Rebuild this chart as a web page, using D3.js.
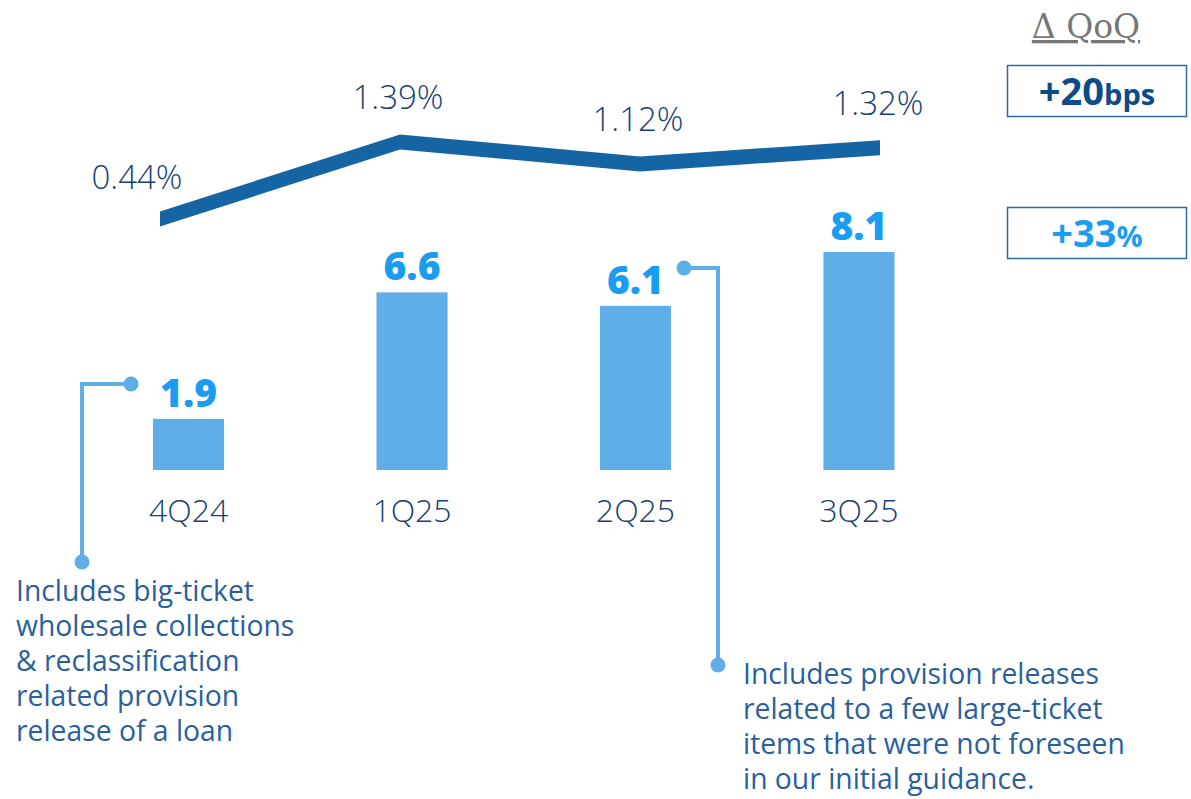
<!DOCTYPE html>
<html>
<head>
<meta charset="utf-8">
<script src="https://cdn.jsdelivr.net/npm/d3@7"></script>
<style>
	body { margin: 0; background: #fff; }
	svg { display: block; font-family: "Open Sans", Lato, sans-serif; }
</style>
</head>
<body>
<div id="content"></div>
<script>
// data
let quarters = ['4Q24', '1Q25', '2Q25', '3Q25']
let cost_of_risk = [0.44, 1.39, 1.12, 1.32]
let impairments = [1.9, 6.6, 6.1, 8.1]
let value_labels = ['1.9', '6.6', '6.1', '8.1']
let rate_labels = ['0.44%', '1.39%', '1.12%', '1.32%']
let qoq_header = 'Δ QoQ'
let qoq_values = [{ main: '+20', unit: 'bps' }, { main: '+33', unit: '%' }]
let note_left = ['Includes big-ticket', 'wholesale collections', '& reclassification', 'related provision', 'release of a loan']
let note_right = ['Includes provision releases', 'related to a few large-ticket', 'items that were not foreseen', 'in our initial guidance.']

let WIDTH = 1191
let HEIGHT = 799
let DARK = '#1a3f73'
let LINE = '#1565a5'
let BAR = '#5faee8'
let BRIGHT = '#1a9cf0'
let NOTE = '#2a5f9c'

let svg = d3.select('#content').append('svg')
	.attr('width', WIDTH)
	.attr('height', HEIGHT)

// bars
let x_bar = d3.scaleBand().domain(quarters).range([153, 894.5]).paddingInner(0.682).paddingOuter(0)
let y_bar = d3.scaleLinear().domain([0, 8.1]).range([470, 252])

svg.selectAll('rect.bar')
	.data(quarters)
	.enter().append('rect')
		.attr('class', 'bar')
		.attr('x', (d) => x_bar(d))
		.attr('width', x_bar.bandwidth())
		.attr('y', (d, i) => y_bar(impairments[i]))
		.attr('height', (d, i) => y_bar(0) - y_bar(impairments[i]))
		.style('fill', BAR)

svg.selectAll('text.value')
	.data(quarters)
	.enter().append('text')
		.attr('class', 'value')
		.attr('x', (d) => x_bar(d) + x_bar.bandwidth() / 2)
		.attr('y', (d, i) => y_bar(impairments[i]) - 12)
		.attr('text-anchor', 'middle')
		.style('font-size', '39px')
		.style('font-weight', 800)
		.style('fill', BRIGHT)
		.text((d, i) => value_labels[i])

svg.selectAll('text.category')
	.data(quarters)
	.enter().append('text')
		.attr('class', 'category')
		.attr('x', (d) => x_bar(d) + x_bar.bandwidth() / 2)
		.attr('y', 522)
		.attr('text-anchor', 'middle')
		.style('font-size', '32px')
		.style('font-weight', 300)
		.style('fill', DARK)
		.text((d) => d)

// cost of risk line, drawn as a band so that the ends are cut vertically
let x_line = d3.scalePoint().domain(quarters).range([160, 880])
let y_line = d3.scaleLinear().domain([0.44, 1.39]).range([219, 142])

let band = d3.area()
	.x((d, i) => x_line(quarters[i]))
	.y0((d) => y_line(d) - 7.5)
	.y1((d) => y_line(d) + 7.5)

svg.append('path')
	.datum(cost_of_risk)
	.attr('d', band)
	.style('fill', LINE)

svg.selectAll('text.rate')
	.data(quarters)
	.enter().append('text')
		.attr('class', 'rate')
		.attr('x', (d, i) => x_line(d) + (i === 0 ? -23 : -2))
		.attr('y', (d, i) => y_line(cost_of_risk[i]) - (i === 0 ? 30 : 33))
		.attr('text-anchor', 'middle')
		.style('font-size', '33px')
		.style('font-weight', 300)
		.style('fill', DARK)
		.text((d, i) => rate_labels[i])

// QoQ column
svg.append('text')
	.attr('x', 1086)
	.attr('y', 38)
	.attr('text-anchor', 'middle')
	.style('font-family', '"DejaVu Serif", serif')
	.style('font-size', '33px')
	.style('font-weight', 300)
	.style('fill', '#777')
	.style('text-decoration', 'underline')
	.text(qoq_header)

let box_y = [65, 207]
qoq_values.forEach((q, i) => {
	svg.append('rect')
		.attr('x', 1007.5)
		.attr('y', box_y[i] + 0.5)
		.attr('width', 179)
		.attr('height', 51)
		.style('fill', 'none')
		.style('stroke', '#2b6aa8')
		.style('stroke-width', 1.5)
	let t = svg.append('text')
		.attr('x', 1097)
		.attr('y', box_y[i] + 40)
		.attr('text-anchor', 'middle')
		.style('font-weight', 700)
		.style('fill', i === 0 ? '#0d4a88' : BRIGHT)
	t.append('tspan').style('font-size', '38px').text(q.main)
	t.append('tspan').style('font-size', '29px').text(q.unit)
})

// callouts
function callout(points, lines, tx, ty) {
	svg.append('path')
		.attr('d', d3.line()(points))
		.style('fill', 'none')
		.style('stroke', BAR)
		.style('stroke-width', 4)
	svg.selectAll(null)
		.data([points[0], points[points.length - 1]])
		.enter().append('circle')
			.attr('cx', (d) => d[0])
			.attr('cy', (d) => d[1])
			.attr('r', 7.5)
			.style('fill', BAR)
	svg.append('text')
		.style('font-size', '28.3px')
		.style('font-weight', 400)
		.style('fill', NOTE)
		.selectAll('tspan')
		.data(lines)
		.enter().append('tspan')
			.attr('x', tx)
			.attr('y', (d, i) => ty + i * 35)
			.text((d) => d)
}

callout([[131, 384], [82, 384], [82, 562]], note_left, 16, 601)
callout([[684, 268], [718, 268], [718, 665]], note_right, 743, 684)
</script>
</body>
</html>
